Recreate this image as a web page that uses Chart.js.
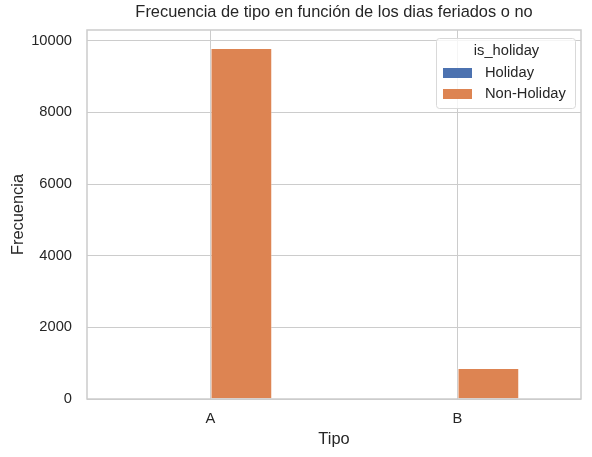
<!DOCTYPE html>
<html>
<head>
<meta charset="utf-8">
<script src="https://cdn.jsdelivr.net/npm/chart.js@4.4.1/dist/chart.umd.min.js"></script>
<style>
html,body{margin:0;padding:0;background:#fff;}
#wrap{width:592px;height:457px;}
</style>
</head>
<body>
<div id="wrap"><canvas id="c" width="592" height="457"></canvas></div>
<script>
const categories = ["A", "B"];
const holidayValues = [0, 0];
const nonHolidayValues = [9800, 865];
const yTicks = [0, 2000, 4000, 6000, 8000, 10000];
const seriesLabels = ["Holiday", "Non-Holiday"];
const legendTitle = "is_holiday";
const chartTitle = "Frecuencia de tipo en función de los dias feriados o no";

const FONT = "'Liberation Sans', Arial, sans-serif";
const TEXT = "#262626";
const GRID = "#cccccc";
const SMALL = 14.7;
const LARGE = 16.4;

const framePlugin = {
  id: 'frame',
  afterDatasetsDraw(chart) {
    const {ctx, chartArea: a} = chart;
    ctx.save();
    ctx.strokeStyle = GRID;
    ctx.lineWidth = 1.5;
    ctx.strokeRect(a.left, a.top, a.right - a.left, a.bottom - a.top);
    ctx.restore();
  }
};

const titlePlugin = {
  id: 'axesTitle',
  afterDraw(chart) {
    const {ctx, chartArea: a} = chart;
    ctx.save();
    ctx.fillStyle = TEXT;
    ctx.font = LARGE + "px " + FONT;
    ctx.textAlign = 'center';
    ctx.textBaseline = 'middle';
    ctx.fillText(chartTitle, (a.left + a.right) / 2, 12);
    ctx.restore();
  }
};

const legendPlugin = {
  id: 'customLegend',
  afterDraw(chart) {
    const {ctx} = chart;
    const x = 436, y = 38, w = 139, h = 70;
    ctx.save();
    ctx.fillStyle = 'rgba(255,255,255,0.8)';
    ctx.strokeStyle = '#d9d9d9';
    ctx.lineWidth = 1;
    ctx.beginPath();
    ctx.roundRect(x + 0.5, y + 0.5, w, h, 3);
    ctx.fill();
    ctx.stroke();
    ctx.fillStyle = TEXT;
    ctx.textBaseline = 'middle';
    ctx.textAlign = 'center';
    ctx.font = SMALL + "px " + FONT;
    ctx.fillText(legendTitle, x + w / 2 + 1, y + 13);
    ctx.textAlign = 'left';
    chart.data.datasets.forEach((ds, i) => {
      const ry = y + 35 + i * 21;
      ctx.fillStyle = ds.backgroundColor;
      ctx.fillRect(x + 7, ry - 5, 29, 10);
      ctx.fillStyle = TEXT;
      ctx.fillText(ds.label, x + 49, ry);
    });
    ctx.restore();
  }
};

new Chart(document.getElementById('c'), {
  type: 'bar',
  data: {
    labels: categories,
    datasets: [
      { label: seriesLabels[0], data: holidayValues, backgroundColor: '#4c72b0',
        categoryPercentage: 0.5, barPercentage: 1.0 },
      { label: seriesLabels[1], data: nonHolidayValues, backgroundColor: '#dd8452',
        borderColor: 'rgba(255,255,255,0.35)', borderWidth: 1,
        categoryPercentage: 0.5, barPercentage: 1.0 }
    ]
  },
  options: {
    responsive: false,
    animation: false,
    devicePixelRatio: 1,
    layout: { padding: { left: 0, right: 11, top: 30, bottom: 0 } },
    plugins: {
      legend: { display: false },
      tooltip: { enabled: false },
      title: { display: false }
    },
    scales: {
      x: {
        grid: { color: GRID, lineWidth: 1, offset: false, drawTicks: false },
        border: { display: false },
        ticks: { color: TEXT, font: { family: FONT, size: SMALL }, padding: 11 },
        title: { display: true, text: "Tipo", color: TEXT,
                 font: { family: FONT, size: LARGE }, padding: 8 },
        afterFit(s) { s.height = 58; }
      },
      y: {
        min: 0,
        max: 10300,
        grid: { color: GRID, lineWidth: 1, drawTicks: false },
        border: { display: false },
        ticks: { color: TEXT, font: { family: FONT, size: SMALL }, padding: 15,
                 callback: (v) => String(v) },
        afterBuildTicks(s) { s.ticks = yTicks.map(v => ({ value: v })); },
        title: { display: true, text: "Frecuencia", color: TEXT,
                 font: { family: FONT, size: LARGE }, padding: 8.7 },
        afterFit(s) { s.width = 87; }
      }
    }
  },
  plugins: [framePlugin, titlePlugin, legendPlugin]
});
</script>
</body>
</html>
